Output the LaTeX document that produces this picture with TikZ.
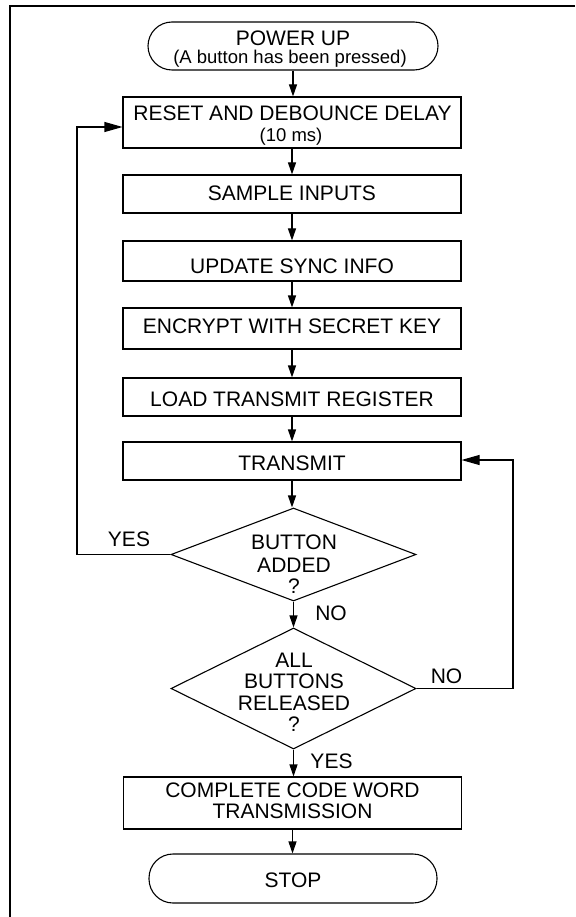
\documentclass[tikz,border=0pt]{standalone}
\usepackage{fontspec}
\setmainfont{Liberation Sans}
\usetikzlibrary{arrows.meta,shapes.geometric}
\begin{document}
\begin{tikzpicture}[x=1pt,y=-1pt,
  box/.style={draw, line width=1.1pt, minimum width=338pt, inner sep=0pt},
  term/.style={draw, line width=1.1pt, rounded corners=24pt, inner sep=0pt},
  dec/.style={draw, diamond, line width=1.1pt, inner sep=0pt, minimum width=245pt},
  lbl/.style={anchor=base, inner sep=0pt, font=\fontsize{21pt}{21pt}\selectfont},
  sml/.style={anchor=base, inner sep=0pt, font=\fontsize{18.5pt}{18.5pt}\selectfont},
  flow/.style={line width=1.1pt, -{Triangle[length=12pt,width=8pt]}},
  back/.style={line width=1.1pt, -{Triangle[length=18pt,width=10pt]}}]

\useasboundingbox (0,0) rectangle (575,917);

% page frame
\draw[line width=2.3pt] (10,917) -- (10,6) -- (575,6);

% shapes
\node[term, minimum width=290pt, minimum height=48pt] (pwr) at (293,46) {};
\node[box, minimum height=51pt] (reset) at (292,122.5) {};
\node[box, minimum height=38pt] (sample) at (292,194) {};
\node[box, minimum height=40pt] (sync) at (292,261) {};
\node[box, minimum height=41pt] (encrypt) at (292,328.5) {};
\node[box, minimum height=38pt] (load) at (292,397) {};
\node[box, minimum height=38pt] (tx) at (292,461) {};
\node[dec, minimum height=93pt] (added) at (293.5,554.5) {};
\node[dec, minimum height=121pt] (released) at (293.5,688.5) {};
\node[box, minimum height=52pt] (complete) at (292.5,803) {};
\node[term, minimum width=288pt, minimum height=49pt] (stop) at (293,878.5) {};

% texts
\node[lbl] (pwrA) at (293,46) {POWER UP};
\node[sml] (pwrB) at (290,64) {(A button has been pressed)};
\node[lbl] (resetA) at (292.5,121) {RESET AND DEBOUNCE DELAY};
\node[sml] (resetB) at (291,142) {(10 ms)};
\node[lbl] (sampleT) at (292,201) {SAMPLE INPUTS};
\node[lbl] (syncT) at (292,273) {UPDATE SYNC INFO};
\node[lbl] (encryptT) at (292,333) {ENCRYPT WITH SECRET KEY};
\node[lbl] (loadT) at (292,406) {LOAD TRANSMIT REGISTER};
\node[lbl] (txT) at (292,470) {TRANSMIT};
\node[lbl] (addedA) at (294,549) {BUTTON};
\node[lbl] (addedB) at (294,572) {ADDED};
\node[lbl] (addedC) at (294,593) {?};
\node[lbl] (relA) at (294,667) {ALL};
\node[lbl] (relB) at (294,688) {BUTTONS};
\node[lbl] (relC) at (294,710) {RELEASED};
\node[lbl] (relD) at (294,731) {?};
\node[lbl] (completeA) at (292.5,797) {COMPLETE CODE WORD};
\node[lbl] (completeB) at (292.5,818) {TRANSMISSION};
\node[lbl] (stopT) at (293,887) {STOP};

\node[lbl] (yes1) at (129,546) {YES};
\node[lbl] (no1) at (331,620) {NO};
\node[lbl] (no2) at (446.5,683) {NO};
\node[lbl] (yes2) at (331.5,768) {YES};

% main flow
\draw[flow] (pwr.south) -- (pwr.south |- reset.north);
\draw[flow] (reset.south) -- (sample.north);
\draw[flow] (sample.south) -- (sync.north);
\draw[flow] (sync.south) -- (encrypt.north);
\draw[flow] (encrypt.south) -- (load.north);
\draw[flow] (load.south) -- (tx.north);
\draw[flow] (tx.south) -- (tx.south |- added.north);
\draw[flow] (added.south) -- (released.north);
\draw[flow] (released.south) -- (released.south |- complete.north);
\draw[flow] (complete.south) -- (complete.south |- stop.north);

% loops
\coordinate (yesTurn) at (77,127);
\draw[back] (added.west) -| (yesTurn) -- (reset.west |- yesTurn);
\coordinate (noTurn) at (513,460);
\draw[back] (released.east) -| (noTurn) -- (tx.east |- noTurn);

\end{tikzpicture}
\end{document}
